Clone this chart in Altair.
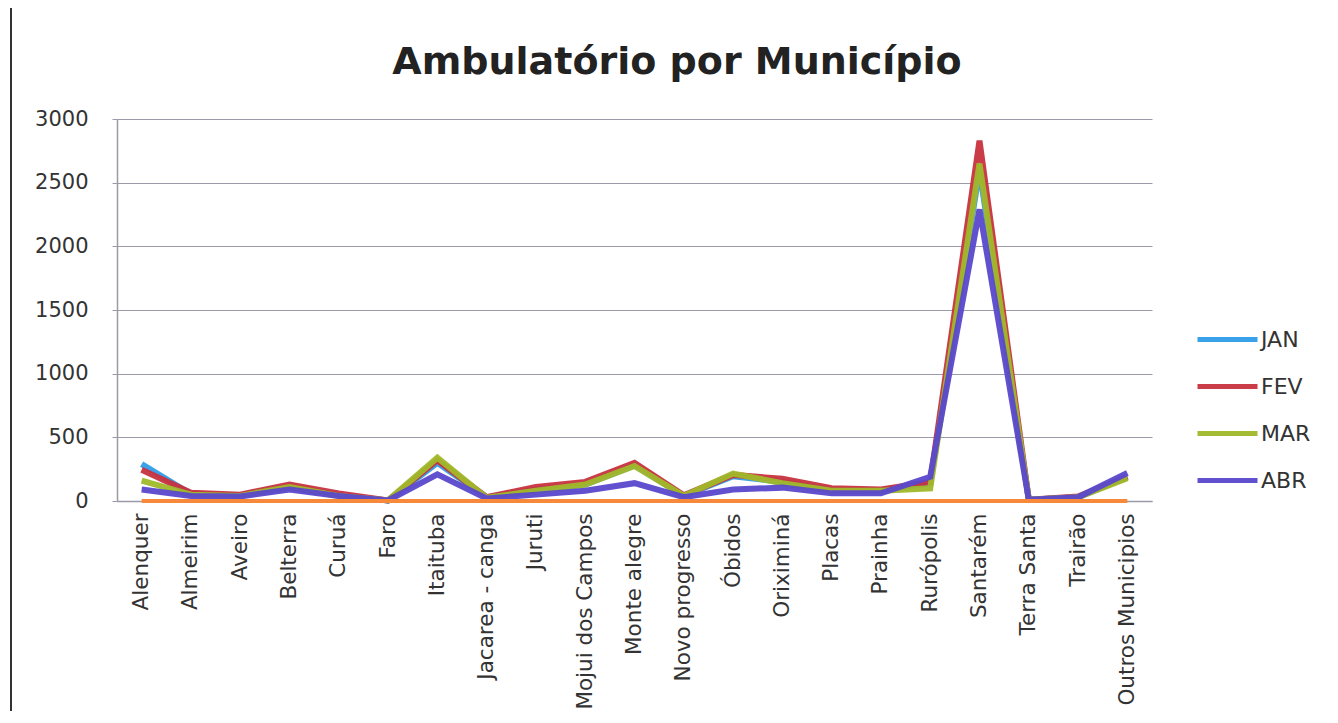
import altair as alt
import pandas as pd

municipios = ["Alenquer", "Almeirim", "Aveiro", "Belterra", "Curuá", "Faro", "Itaituba",
              "Jacarea - canga", "Juruti", "Mojui dos Campos", "Monte alegre", "Novo progresso",
              "Óbidos", "Oriximiná", "Placas", "Prainha", "Rurópolis", "Santarém",
              "Terra Santa", "Trairão", "Outros Municipios"]

jan = [290, 55, 45, 110, 45, 5, 300, 30, 90, 130, 280, 40, 195, 150, 85, 80, 140, 2600, 10, 30, 190]
fev = [245, 65, 50, 130, 60, 5, 320, 30, 110, 150, 300, 45, 205, 175, 100, 90, 150, 2830, 10, 35, 190]
mar = [160, 50, 40, 110, 40, 5, 340, 25, 80, 130, 275, 40, 215, 140, 80, 80, 100, 2650, 10, 30, 180]
abr = [90, 40, 35, 90, 40, 5, 210, 20, 50, 80, 140, 30, 90, 105, 60, 60, 190, 2290, 10, 30, 220]
zero_series = [0] * len(municipios)

months = ["JAN", "FEV", "MAR", "ABR"]
colors = ["#2F9DE8", "#C8323F", "#A0B82A", "#5A48CC"]
series = {"JAN": jan, "FEV": fev, "MAR": mar, "ABR": abr}

rows = []
for m in months:
    for c, v in zip(municipios, series[m]):
        rows.append({"municipio": c, "mes": m, "valor": v})
df = pd.DataFrame(rows)
df_zero = pd.DataFrame({"municipio": municipios, "valor": zero_series})

FONT = "DejaVu Sans"

x_enc = alt.X("municipio:N", sort=municipios, title=None,
              scale=alt.Scale(type="point", padding=0.5),
              axis=alt.Axis(labelAngle=-90, labelFont=FONT, labelFontSize=21.5,
                            labelColor="#333333", labelPadding=12, ticks=False, labelLimit=400,
                            domainColor="#9a9aa8", domainWidth=1.5, grid=False))
y_enc = alt.Y("valor:Q", title=None,
              scale=alt.Scale(domain=[0, 3000], nice=False),
              axis=alt.Axis(values=[0, 500, 1000, 1500, 2000, 2500, 3000], format="d",
                            labelFont=FONT, labelFontSize=21, labelColor="#333333",
                            labelPadding=24, tickSize=5, tickColor="#9a9aa8",
                            domainColor="#9a9aa8", domainWidth=1.5,
                            gridColor="#9a9aa8", gridWidth=1.2))

layers = []
for m in months:
    layers.append(
        alt.Chart(df).transform_filter(alt.datum.mes == m).mark_line(strokeWidth=6, opacity=0.95).encode(
            x=x_enc, y=y_enc,
            color=alt.Color("mes:N", sort=months,
                            scale=alt.Scale(domain=months, range=colors),
                            legend=alt.Legend(title=None, orient="none", legendX=1078, legendY=188,
                                              symbolType="stroke", symbolSize=3600,
                                              symbolStrokeWidth=5, labelFont=FONT,
                                              labelFontSize=22, labelColor="#333333",
                                              rowPadding=3, labelOffset=1))
        )
    )

zero_line = alt.Chart(df_zero).mark_line(strokeWidth=4, color="#F68A3A").encode(x=x_enc, y=y_enc)

title = alt.Chart(pd.DataFrame({"t": ["Ambulatório por Município"]})).mark_text(
    font=FONT, fontSize=38, fontWeight="bold", color="#222222", align="center", baseline="middle"
).encode(text="t:N", x=alt.value(560), y=alt.value(-56))

frame_src = pd.DataFrame({"a": [0]})
frame_left = alt.Chart(frame_src).mark_rect(color="#333333", strokeWidth=0).encode(
    x=alt.value(-107), x2=alt.value(-105), y=alt.value(-111), y2=alt.value(660))

chart = alt.layer(*layers, zero_line, title, frame_left).properties(
    width=1035, height=382,
    autosize=alt.AutoSizeParams(type="none"),
    padding={"left": 109, "top": 111, "right": 176, "bottom": 210},
    background="white",
).configure_view(stroke=None)

chart.save("out.html", embed_options={"renderer": "svg", "actions": False})
